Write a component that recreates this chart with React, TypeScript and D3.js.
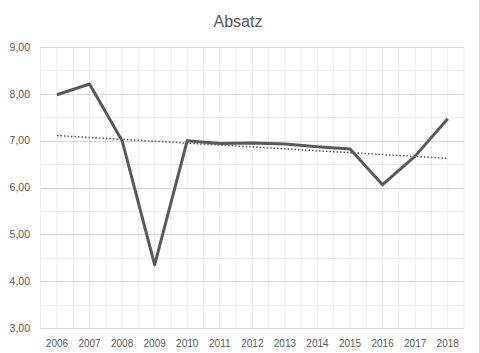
import * as React from "react";
import * as d3 from "d3";

const { useRef, useEffect } = React;

const years = ["2006", "2007", "2008", "2009", "2010", "2011", "2012", "2013", "2014", "2015", "2016", "2017", "2018"];
const absatz = [7.98, 8.21, 7.0, 4.35, 7.0, 6.94, 6.95, 6.93, 6.87, 6.82, 6.06, 6.67, 7.47];
const yTicks = [3, 4, 5, 6, 7, 8, 9];

const W = 480, H = 353;
const margin = { top: 47, right: 16, bottom: 25, left: 40.7 };

export default function App() {
  const svgRef = useRef(null);

  useEffect(() => {
    const svg = d3.select(svgRef.current);
    svg.selectAll("*").remove();

    const x = d3.scaleBand().domain(years).range([margin.left, W - margin.right]);
    const y = d3.scaleLinear().domain([3, 9]).range([H - margin.bottom, margin.top]);
    const cx = (d: string) => x(d)! + x.bandwidth() / 2;
    const fmt = (v: number) => d3.format(".2f")(v).replace(".", ",");

    // vertical grid (band edges + centres)
    const vLines: number[] = [];
    years.forEach(d => { vLines.push(x(d)!); vLines.push(cx(d)); });
    vLines.push(W - margin.right);
    svg.append("g").selectAll("line").data(vLines).enter().append("line")
      .attr("x1", d => d).attr("x2", d => d)
      .attr("y1", y(9)).attr("y2", y(3))
      .attr("stroke", "#ececec").attr("stroke-width", 1);

    // minor horizontal grid
    svg.append("g").selectAll("line").data(d3.range(3.5, 9, 1)).enter().append("line")
      .attr("x1", margin.left).attr("x2", W - margin.right)
      .attr("y1", d => Math.round(y(d)) + 0.5).attr("y2", d => Math.round(y(d)) + 0.5)
      .attr("stroke", "#ececec");

    // major horizontal grid
    svg.append("g").selectAll("line").data(yTicks).enter().append("line")
      .attr("x1", margin.left).attr("x2", W - margin.right)
      .attr("y1", d => Math.round(y(d)) + 0.5).attr("y2", d => Math.round(y(d)) + 0.5)
      .attr("stroke", "#d9d9d9");

    // y labels
    svg.append("g").selectAll("text").data(yTicks).enter().append("text")
      .attr("x", 30).attr("y", d => y(d)).attr("dy", "0.35em")
      .attr("text-anchor", "end")
      .attr("font-family", "Liberation Sans, Arial, sans-serif")
      .attr("font-size", 10.5).attr("fill", "#595959")
      .text(fmt);

    // x labels
    svg.append("g").selectAll("text").data(years).enter().append("text")
      .attr("x", cx).attr("y", 347)
      .attr("text-anchor", "middle")
      .attr("font-family", "Liberation Sans, Arial, sans-serif")
      .attr("font-size", 10).attr("fill", "#595959")
      .text(d => d);

    // linear trend
    const idx = d3.range(years.length);
    const mx = d3.mean(idx)!, my = d3.mean(absatz)!;
    const slope = d3.sum(idx, i => (i - mx) * (absatz[i] - my)) / d3.sum(idx, i => (i - mx) ** 2);
    const trend = (i: number) => my + slope * (i - mx);
    svg.append("line")
      .attr("x1", cx(years[0])).attr("y1", y(trend(0)))
      .attr("x2", cx(years[years.length - 1])).attr("y2", y(trend(years.length - 1)))
      .attr("stroke", "#595959").attr("stroke-width", 1.5)
      .attr("stroke-dasharray", "1.5 2");

    // data line
    const line = d3.line<number>().x((d, i) => cx(years[i])).y(d => y(d));
    svg.append("path").datum(absatz)
      .attr("d", line)
      .attr("fill", "none").attr("stroke", "#595959")
      .attr("stroke-width", 3).attr("stroke-linejoin", "round");

    // title
    svg.append("text")
      .attr("x", 238).attr("y", 27).attr("text-anchor", "middle")
      .attr("font-family", "Liberation Sans, Arial, sans-serif")
      .attr("font-size", 16).attr("fill", "#595959")
      .text("Absatz");

    // chart border (right edge visible)
    svg.append("line")
      .attr("x1", 479.5).attr("x2", 479.5).attr("y1", 0).attr("y2", H)
      .attr("stroke", "#d9d9d9");
  }, []);

  return (
    <div style={{ position: "fixed", left: 0, top: 0 }}>
      <svg ref={svgRef} width={W} height={H} style={{ display: "block", background: "#fff" }} />
    </div>
  );
}
